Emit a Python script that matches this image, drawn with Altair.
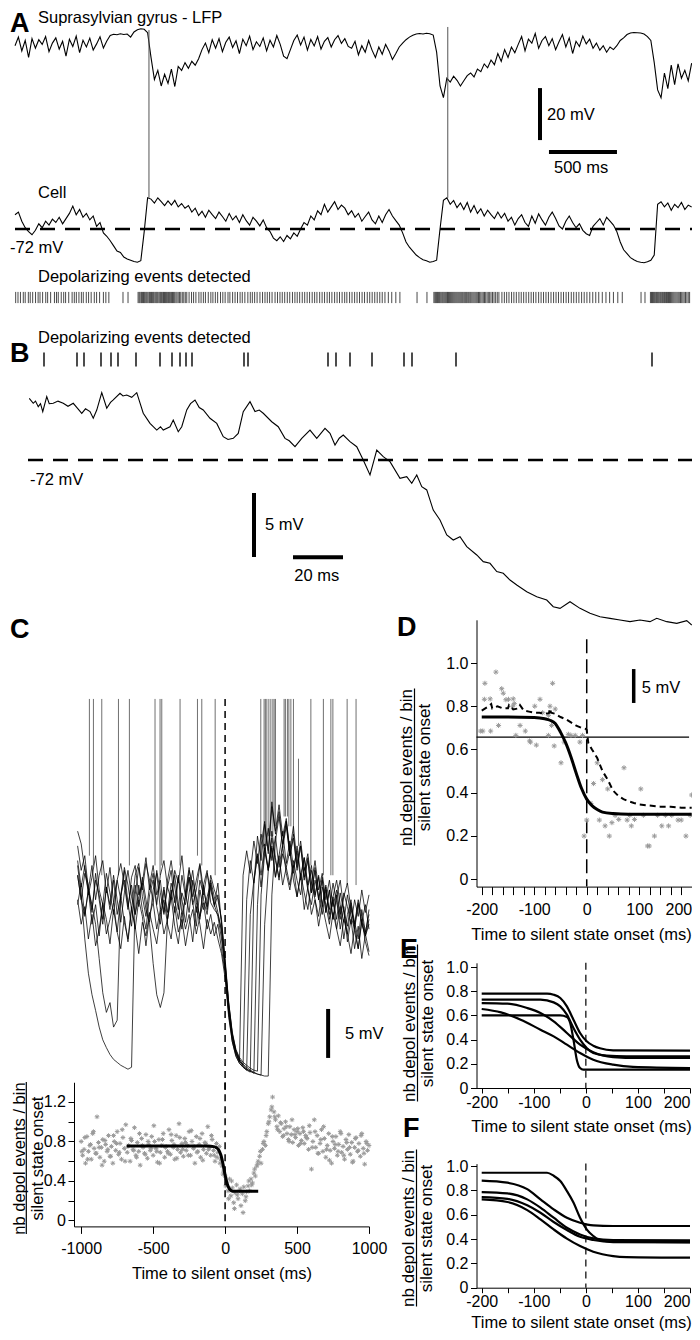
import altair as alt
import pandas as pd

FONT = "Liberation Sans"
W, H = 684, 1324

# ======================= DATA =======================
# ---- Panel A : LFP (display mV) and cell Vm, sampled every 25 ms ----
A_STEP_MS = 25
LFP = [
    -1.5, 1.8, -3.5, 0.5, -6.0, 1.2, -2.5, 0.8, -1.0, 2.0, -3.8, -0.5, 1.5, -2.8,
    0.2, -5.5, 1.0, -1.8, 2.2, -4.2, 0.6, -2.0, 1.4, -3.2, -0.8, 1.9, -2.4, 0.3,
    2.4, 2.9, 2.7, 3.1, 2.8, 3.0, 1.8,
    3.8, 4.6, 5.0, 4.8,
    3.5,
    -6.0, -14.5, -11.0, -17.0, -12.5, -16.0, -10.5, -17.2,
    -9.5, -11.0, -8.0, -10.2, -7.5, -9.0, -6.5,
    -3.0, -0.5, -4.2, 0.8, -2.5, 1.2, -3.8, -0.2, 1.8, -2.2,
    0.4, -4.5, 1.0, -1.5, 2.2, -3.0, 0.0, -1.8, 1.5, -3.5,
    0.6, -2.0, 2.4, -1.0, -5.5, -6.5, -3.0, 0.5, 2.6, -1.2,
    1.8, -3.2, 0.9, -1.6, 2.0, -2.8, 0.2, 1.6, -2.0, 0.8,
    2.4, -0.6, 1.2, -1.8,
    -2.5, 0.2, -5.0, -1.5, -4.0, 0.5, -3.2, -6.0, -2.0, -4.8, -1.0, -3.5, -6.8, -4.5, -2.0,
    -0.5, 0.8, 1.8, 2.5, 3.0, 3.2, 3.0, 3.3, 3.1, 2.6,
    -4.0, -17.0, -21.5,
    -14.0, -15.5, -13.2, -14.8, -17.0, -15.0,
    -13.0, -12.0, -13.5, -10.5, -11.5, -8.5, -10.0, -7.0, -8.8, -4.5, -7.5, -3.0, -6.0, -2.0, -4.2,
    -1.0, 2.0, -3.5, 1.0, -0.5, 3.2, -2.5, 0.5, 2.0, -1.5,
    1.2, -3.0, 0.0, 2.8, -2.0, 1.5, -4.5, 0.2, -1.8, 2.2,
    -0.8, 1.0, -2.5, -0.5, -3.2, -1.5, -4.0, -2.0, -3.0, -1.5, 0.5,
    1.5, 2.8, 3.4, 3.6, 3.5, 3.4, 3.0, 2.0, 0.5,
    -8.0, -18.5, -21.5,
    -12.0, -18.0, -9.0, -16.5, -8.5, -14.0, -11.0, -15.0, -8.2,
]
CELL = [
    -66.5, -65.5, -69.0, -71.5, -73.0, -74.2, -72.5,
    -70.0, -71.5, -69.0, -70.5, -68.2, -69.5, -67.5, -70.0, -68.0, -66.0,
    -63.2, -66.5, -64.5, -67.5, -66.0, -68.5, -67.0,
    -71.0, -69.5, -73.5, -74.8,
    -76.5, -78.5, -80.5, -81.0,
    -82.8, -83.5, -84.0, -84.5, -84.8, -84.2,
    -73.0, -60.0,
    -60.5, -62.0, -60.0, -61.5, -63.0, -61.2, -62.8, -61.0, -63.5, -62.2, -64.0,
    -63.0, -65.5, -64.0, -66.8, -65.2, -67.5, -64.8, -66.5, -68.0, -65.5, -67.2, -69.0,
    -66.0, -68.5, -67.0, -69.5, -66.5, -68.8, -70.5, -67.5, -69.0, -70.8, -68.5,
    -71.5, -73.0, -75.5, -76.5, -75.0, -76.8, -74.5, -75.8, -73.5, -74.8,
    -72.0, -69.5, -70.5, -67.0, -68.5, -65.0, -66.5, -62.5, -65.5, -63.5, -61.5, -64.5, -62.8, -64.0, -66.5,
    -65.0, -67.5, -66.0, -69.0, -67.2, -65.5, -68.5, -70.0, -67.0, -69.5, -66.5, -64.5, -67.0, -68.8, -70.5,
    -73.5, -77.0, -79.0, -80.5,
    -82.0, -83.0, -83.8, -84.2, -84.8, -84.5,
    -84.0, -72.0, -61.0,
    -60.0, -62.5, -61.0, -63.8, -62.0, -64.5, -61.8, -65.5, -63.0, -66.0, -64.2, -67.0, -64.8, -66.5, -68.0, -65.5, -67.8,
    -66.0, -69.0, -67.5, -70.5, -68.0, -66.5, -69.5, -71.0, -67.0, -69.8,
    -66.2, -68.5, -70.5, -67.5, -65.5, -68.0, -70.8, -72.0, -69.0, -67.0,
    -69.5, -71.5, -70.0, -72.5, -73.8, -74.5, -71.0, -69.5, -68.0, -70.5,
    -67.5, -69.0, -70.5,
    -73.0, -77.0, -80.0, -81.5,
    -83.0, -83.8, -84.5, -84.8, -85.0, -84.6, -84.0,
    -82.0, -62.5,
    -61.5, -63.5, -62.0, -64.8, -62.5, -63.8, -61.8, -64.5, -62.8, -63.5,
]
# action potentials of the cell: (time ms, foot mV, truncated top mV)
A_SPIKES = [(985, -60.0, 4.5), (3182, -60.0, 5.7)]
# detected depolarizing events (ms)
A_EVENTS = [
    5, 22, 40, 61, 75, 98, 112, 130, 151, 170, 184, 203, 226, 240, 262, 290, 305, 318, 340, 358,
    372, 395, 420, 436, 451, 470, 488, 502, 524, 541, 560, 583, 600, 622, 650, 668, 690,
    794, 831,
    905, 912, 918, 926, 931, 938, 945, 951, 957, 964, 970, 977, 985, 990, 997, 1004, 1010, 1017,
    1023, 1031, 1038, 1044, 1050, 1058, 1065, 1071, 1078, 1086, 1092, 1099, 1106, 1113, 1120,
    1128, 1135, 1142, 1150, 1158, 1166, 1174, 1183, 1191, 1200, 1210, 1219, 1230, 1241, 1252, 1263,
    1280, 1298, 1313, 1330, 1352, 1368, 1385, 1400, 1421, 1440, 1455, 1473, 1490, 1511, 1528,
    1545, 1566, 1580, 1600, 1618, 1636, 1655, 1671, 1690, 1712, 1730, 1745, 1762, 1780, 1801,
    1820, 1838, 1855, 1872, 1890, 1912, 1930, 1948, 1965, 1983, 2002, 2020, 2040, 2058, 2075,
    2093, 2112, 2130, 2148, 2166, 2185, 2203, 2220, 2240, 2258, 2276, 2295, 2312, 2330, 2350,
    2368, 2386, 2405, 2424, 2440, 2460, 2478, 2497, 2515, 2533, 2552, 2570, 2590, 2608, 2626,
    2645, 2663, 2682, 2700, 2720, 2745, 2770, 2800, 2830,
    2956, 3029,
    3080, 3087, 3093, 3100, 3106, 3113, 3120, 3126, 3133, 3140, 3146, 3153, 3160, 3167, 3174,
    3180, 3187, 3194, 3201, 3208, 3215, 3222, 3229, 3236, 3243, 3250, 3257, 3264, 3271, 3278,
    3285, 3292, 3300, 3307, 3314, 3321, 3329, 3336, 3344, 3351, 3359, 3367, 3375, 3383, 3391,
    3399, 3408, 3416, 3425, 3434, 3443, 3452, 3461, 3471, 3480, 3490, 3500, 3511, 3522, 3534,
    3546, 3558,
    3580, 3598, 3615, 3632, 3651, 3668, 3686, 3705, 3722, 3740, 3758, 3777, 3795, 3812, 3830,
    3850, 3868, 3886, 3904, 3922, 3941, 3960, 3978, 3996, 4015, 4033, 4052, 4070, 4090, 4108,
    4127, 4146, 4166, 4185, 4205, 4226, 4248, 4270, 4292, 4318, 4345, 4372, 4400, 4432, 4465,
    4603, 4632,
    4672, 4680, 4687, 4694, 4701, 4708, 4716, 4723, 4730, 4737, 4745, 4752, 4760, 4767, 4775,
    4782, 4790, 4797, 4805, 4812, 4820, 4828, 4836, 4844, 4852, 4860, 4868, 4876, 4884, 4893,
    4902, 4911, 4920, 4930, 4940, 4950, 4960,
]

# ---- Panel B : zoom on the transition (time ms, Vm mV) ----
B_TRACE = [
    (0.5, -67.18), (2.1, -67.57), (3.0, -67.40), (4.1, -67.83), (5.0, -67.60), (5.9, -68.22),
    (7.5, -67.05), (8.5, -67.60), (10.1, -67.57), (12.0, -67.40), (14.1, -67.57), (16.0, -67.80),
    (18.1, -67.57), (20.0, -68.00), (21.5, -68.35), (23.0, -68.00), (24.8, -68.22), (26.1, -68.74),
    (27.5, -68.10), (29.5, -66.74), (31.5, -67.96), (33.0, -67.50), (34.1, -67.31), (36.8, -66.79),
    (38.0, -67.00), (39.5, -66.92), (41.5, -67.10), (43.5, -66.74), (46.1, -68.35), (48.8, -69.14),
    (51.5, -69.66), (53.0, -69.40), (54.1, -69.66), (56.8, -69.40), (58.1, -68.88), (60.1, -69.79),
    (61.5, -69.40), (63.5, -68.09), (65.0, -67.60), (66.8, -67.31), (68.5, -67.90), (70.1, -68.09),
    (72.8, -68.74), (75.5, -69.14), (78.1, -70.18), (80.0, -70.40), (82.1, -70.31), (84.1, -69.92),
    (86.1, -68.22), (88.8, -67.44), (90.8, -68.22), (92.5, -68.10), (94.1, -68.35), (97.5, -69.01),
    (100.1, -69.40), (102.8, -70.31), (104.5, -70.50), (106.8, -70.96), (109.5, -70.31),
    (112.8, -69.66), (115.5, -70.31), (118.8, -69.53), (120.8, -69.92), (122.8, -70.83),
    (124.5, -70.30), (126.1, -70.05), (128.8, -70.57), (131.5, -70.96), (134.1, -72.00),
    (136.8, -73.17), (139.5, -71.22), (142.1, -71.74), (144.8, -72.13), (148.8, -73.43),
    (151.5, -73.30), (153.5, -73.82), (155.5, -73.17), (157.5, -74.08), (159.5, -74.34),
    (162.1, -75.91), (164.8, -76.69), (167.5, -77.86), (170.1, -78.25), (172.8, -77.99),
    (175.5, -78.77), (179.5, -79.42), (182.1, -79.94), (184.8, -80.07), (187.5, -80.72),
    (190.1, -80.85), (192.8, -81.38), (195.5, -81.77), (199.5, -82.29), (203.5, -82.68),
    (207.5, -82.94), (210.1, -83.46), (212.8, -83.59), (216.8, -83.07), (220.8, -83.59),
    (224.8, -83.98), (228.8, -84.24), (232.8, -84.37), (236.8, -84.50), (240.8, -84.63),
    (244.8, -84.50), (248.8, -84.63), (251.5, -84.37), (255.5, -84.63), (259.5, -84.76),
    (263.5, -84.55), (265.5, -84.89),
]
B_EVENTS = [6.4, 19.6, 22.4, 29.2, 33.2, 36.0, 43.2, 52.8, 57.6, 60.8, 63.2, 65.6, 86.4, 88.0,
            120.0, 123.2, 128.8, 137.6, 150.4, 153.6, 171.2, 249.6]

# ---- Panel C : overlaid Vm traces aligned on silent-state onset (every 25 ms from -1025 ms) ----
C_T0, C_STEP = -1025, 25
C_TRACES = {
    "t1": [-55.0, -57.5, -56.0, -59.5, -57.0, -60.5, -58.0, -56.5, -59.8, -57.2,
           -60.8, -58.5, -56.8, -59.0, -61.5, -58.2, -57.0, -60.0, -58.8, -56.2,
           -59.5, -57.8, -61.0, -58.0, -56.5, -59.2, -60.5, -57.5, -58.8, -56.0,
           -59.8, -57.2, -60.2, -58.5, -56.8, -59.5, -61.2, -58.0, -59.5, -60.5, -62.5,
           -66.5, -71.0, -74.2, -76.0, -77.0, -58.0,
           -55.5, -57.8, -54.5, -56.8, -53.8, -55.5, -57.5, -54.2, -56.5, -58.2,
           -55.8, -57.2, -59.0, -56.5, -58.5, -60.0, -57.2, -59.5, -61.0, -58.5,
           -60.2, -62.0, -59.5, -61.5, -58.8, -60.8, -62.5, -59.8, -61.2, -63.0,
           -60.5, -62.2, -59.5, -61.8, -60.0],
    "t2": [-58.0, -60.5, -62.0, -59.5, -63.0, -61.0, -64.2, -60.8, -62.5, -65.0,
           -61.5, -63.8, -60.2, -62.8, -64.5, -61.2, -63.5, -60.5, -62.2, -65.2,
           -62.0, -60.8, -63.5, -61.5, -64.0, -62.5, -60.2, -63.2, -65.0, -61.8,
           -63.5, -62.0, -64.8, -61.2, -63.0, -65.5, -62.5, -64.0, -62.8, -64.5, -66.0,
           -68.5, -72.5, -75.0, -76.5, -77.2, -77.6, -77.9, -62.0,
           -58.5, -56.0, -59.2, -55.2, -57.5, -53.5, -56.2, -58.5, -55.0, -57.8,
           -59.5, -57.0, -60.2, -58.0, -61.5, -59.2, -62.0, -60.5, -63.2, -61.0,
           -62.8, -64.5, -61.8, -63.5, -65.2, -62.5, -64.0, -66.0, -63.2, -65.5,
           -62.8, -64.2, -63.0],
    "t3": [-53.5, -54.8, -57.5, -59.0, -61.5, -58.5, -60.0, -62.5, -59.2, -61.0,
           -58.0, -60.5, -62.8, -59.8, -57.5, -60.2, -62.0, -59.0, -61.5, -63.5,
           -60.0, -58.5, -61.2, -63.0, -59.5, -61.8, -58.8, -60.5, -62.5, -59.8,
           -61.0, -58.2, -60.8, -63.2, -59.5, -61.5, -60.2, -58.8, -61.0, -62.2, -64.5,
           -67.5, -71.8, -74.8, -76.2, -77.0, -77.5, -77.8, -78.0, -78.2, -61.0,
           -55.0, -52.5, -55.8, -51.0, -53.5, -50.8, -54.0, -52.2, -55.5, -53.0,
           -56.8, -54.5, -57.5, -55.8, -58.8, -56.5, -59.5, -57.8, -60.5, -58.5,
           -61.2, -59.5, -62.0, -60.2, -58.8, -61.5, -63.0, -60.5, -62.2, -64.0, -61.5],
    "t4": [-60.5, -63.0, -61.2, -64.5, -62.0, -65.2, -63.5, -61.0, -64.0, -62.5,
           -60.8, -63.8, -65.5, -62.2, -64.8, -61.5, -63.2, -66.0, -62.8, -64.2,
           -61.8, -63.5, -65.0, -62.0, -60.5, -63.0, -64.5, -61.2, -63.8, -62.5,
           -65.2, -63.0, -61.5, -64.0, -62.2, -60.8, -63.5, -62.0, -64.2, -63.0, -65.5,
           -68.0, -72.0, -74.5, -76.0, -76.8, -77.3, -77.6, -77.9, -78.1, -78.3, -78.4, -63.0,
           -57.5, -55.0, -58.2, -56.0, -53.5, -56.8, -54.5, -57.2, -55.5, -58.5,
           -56.2, -59.0, -57.0, -60.2, -58.0, -61.0, -59.2, -62.5, -60.5, -63.5,
           -61.2, -64.5, -62.0, -60.5, -63.8, -65.5, -62.5, -64.8, -66.2],
    "t5": [-57.0,
           -60.0, -64.5, -68.0, -70.2, -71.8, -73.5, -74.8, -75.6, -76.3, -76.8, -77.1, -77.4, -77.6, -77.8, -77.6,
           -60.0, -57.2, -59.5, -56.8, -58.5, -60.8, -57.5, -59.8, -62.0, -58.5,
           -56.5, -59.2, -61.5, -58.0, -60.2, -57.5, -59.0, -61.8, -58.5, -60.0,
           -57.8, -59.5, -61.0, -58.8, -63.0,
           -67.0, -71.0, -74.0, -75.8, -76.8, -77.4, -77.8, -78.0, -78.2, -78.3, -78.4, -78.5, -78.5, -60.0,
           -54.5, -52.0, -55.2, -53.0, -56.0, -54.2, -57.5, -55.0, -58.2, -56.5,
           -59.8, -57.2, -60.5, -58.5, -61.8, -59.5, -62.5, -60.0, -63.5, -61.2,
           -64.8, -62.5, -65.5, -63.2, -66.5, -64.0, -65.8],
    "t6": [-58.0, -60.5, -57.8, -59.5, -61.0,
           -63.0, -66.5, -70.0, -72.0, -71.0, -73.5, -72.8,
           -60.0, -58.5, -61.2, -59.0, -62.0, -60.2, -58.8, -61.5,
           -63.0, -67.0, -70.2, -71.5, -70.0, -62.5,
           -59.5, -61.8, -58.2, -60.5, -62.8, -59.8, -57.5, -60.8, -62.2, -59.0, -61.5, -58.5, -60.2, -61.8, -63.8,
           -67.8, -72.2, -75.0, -76.4, -77.2, -77.6, -77.9, -78.1, -59.0,
           -54.0, -56.5, -52.8, -55.5, -50.5, -53.8, -51.5, -54.8, -52.5, -56.0,
           -53.8, -57.2, -55.0, -58.5, -56.2, -59.8, -57.5, -60.5, -58.2, -61.8,
           -59.5, -62.5, -60.2, -58.5, -61.5, -63.2, -60.8, -62.8, -64.5, -61.5,
           -63.8, -62.0],
    "t7": [-61.0, -58.8, -62.2, -59.5, -61.8, -57.8, -60.5, -63.0, -59.2, -61.5,
           -58.5, -62.0, -60.0, -57.5, -60.8, -63.2, -59.0, -61.2, -58.2, -60.5,
           -62.8, -59.5, -57.8, -61.5, -59.2, -62.5, -60.0, -58.0, -61.0, -63.5,
           -59.8, -61.8, -58.5, -60.2, -62.5, -59.0, -57.5, -60.8, -61.5, -62.0, -63.5,
           -67.2, -71.5, -74.5, -76.2, -77.0, -77.4, -60.5,
           -56.5, -58.8, -55.8, -58.0, -54.8, -57.5, -55.2, -58.2, -56.0, -59.0,
           -57.2, -55.5, -58.5, -60.2, -57.8, -59.8, -61.5, -58.8, -60.5, -62.2,
           -59.2, -61.0, -63.0, -60.2, -62.5, -59.8, -61.8, -64.0, -61.2, -63.2,
           -60.8, -62.8, -61.0, -63.5],
    "t8": [-56.5, -59.2, -57.0, -60.0, -58.2, -56.0, -59.5, -61.0, -57.8, -59.8,
           -62.0, -58.5, -60.5, -57.2, -59.0, -61.5, -58.0, -56.8, -60.2, -62.2,
           -59.0, -57.0, -60.0, -58.5, -61.8, -59.2, -57.5, -60.8, -58.0, -62.0,
           -60.2, -58.2, -61.0, -59.5, -57.0, -60.5, -62.0, -59.0, -61.2, -60.0, -62.8,
           -66.8, -71.2, -74.2, -75.8, -76.6, -77.1, -77.4, -77.7, -77.9, -78.0, -60.0,
           -55.8, -53.2, -56.5, -54.0, -57.2, -54.8, -52.5, -55.5, -57.8, -55.0,
           -58.0, -56.2, -59.2, -57.5, -60.0, -58.2, -61.2, -59.0, -62.0, -60.2,
           -58.5, -61.0, -62.8, -60.0, -62.2, -63.5, -61.0, -63.0, -64.2, -62.5],
}
# spikes in C: (time ms, foot mV, truncated top mV)
C_SPIKES = [
    (-943, -56, -40), (-915, -57, -40), (-857, -58, -40), (-741, -58, -40), (-665, -57, -40),
    (-487, -57, -40), (-452, -58, -40), (-440, -57, -40), (-313, -57, -40), (-192, -56, -40),
    (-162, -57, -40), (-69, -58, -40),
    (248, -56, -40), (271, -55, -40), (280, -55, -40), (290, -55, -40), (304, -54, -40),
    (318, -54, -40), (332, -54, -40), (341, -53, -40), (350, -53, -40), (410, -52, -40),
    (419, -52, -40), (433, -52, -40), (443, -53, -40), (457, -53, -40), (475, -54, -40),
    (510, -55, -46.1), (596, -57, -40), (683, -58, -40), (735, -58, -40), (749, -58, -40),
    (848, -59, -40), (910, -59, -40),
]
# events / bin, first set every 10 ms from -1000 ms, second set every 20 ms from -995 ms
C_SCAT_A = [
    0.80, 0.66, 0.72, 0.58, 0.85, 0.70, 0.76, 0.62, 0.88, 0.73,
    0.68, 1.05, 0.79, 0.64, 0.74, 0.82, 0.60, 0.77, 0.70, 0.86,
    0.65, 0.75, 0.58, 0.80, 0.71, 0.90, 0.67, 0.78, 0.62, 0.84,
    0.73, 0.97, 0.69, 0.76, 0.60, 0.81, 0.72, 0.94, 0.66, 0.79,
    0.70, 0.56, 0.83, 0.74, 0.68, 0.87, 0.63, 0.77, 0.71, 0.85,
    0.66, 0.80, 0.73, 0.59, 0.82, 0.69, 0.76, 0.88, 0.64, 0.75,
    0.70, 0.92, 0.67, 0.81, 0.74, 0.62, 0.86, 0.72, 0.98, 0.69,
    0.78, 0.65, 0.83, 0.71, 0.76, 0.90, 0.66, 0.80, 0.73, 0.58,
    0.85, 0.70, 0.77, 0.64, 0.88, 0.72, 0.79, 0.68, 0.95, 0.74,
    0.66, 0.82, 0.71, 0.60, 0.78, 0.69, 0.75,
    0.62, 0.55, 0.50, 0.45,
    0.38, 0.30, 0.42, 0.25, 0.33, 0.18, 0.28, 0.36, 0.22, 0.30, 0.15, 0.27, 0.34, 0.20, 0.29,
    0.35, 0.30, 0.42, 0.38, 0.48, 0.45, 0.55, 0.60,
    0.65, 0.58, 0.72, 0.80, 0.76, 0.90, 0.98, 1.05, 1.12, 1.25,
    1.10, 1.02, 0.95, 1.06, 0.90, 0.98, 0.85, 0.93, 1.00, 0.88, 0.82, 0.95, 0.87, 0.79,
    0.92, 0.84, 0.90, 0.76, 0.88, 0.81, 0.94, 0.78, 0.86, 0.83, 0.72, 0.89, 0.52,
    0.80, 1.02, 0.74, 0.86, 0.68, 0.78, 0.92, 0.70, 0.83, 0.64,
    0.76, 0.88, 0.71, 0.58, 0.80, 0.73, 0.85, 0.66, 0.77, 0.90,
    0.69, 0.75, 0.62, 0.82, 0.72, 0.87, 0.67, 0.79, 0.60, 0.74,
    0.84, 0.70, 0.78, 0.65, 0.88, 0.73, 0.57, 0.80, 0.71, 0.76,
]
C_SCAT_B = [
    0.70, 0.84, 0.62, 0.77, 0.90, 0.68, 0.74, 0.56, 0.81, 0.72,
    0.65, 0.86, 0.78, 0.69, 0.92, 0.60, 0.75, 0.83, 0.71, 0.64,
    0.88, 0.76, 0.67, 0.80, 0.73, 0.96, 0.70, 0.58, 0.82, 0.74,
    0.68, 0.87, 0.77, 0.63, 0.84, 0.72, 0.79, 0.66, 0.91, 0.75,
    0.69, 0.83, 0.61, 0.78, 0.72, 0.86, 0.66, 0.64,
    0.58, 0.47,
    0.35, 0.22, 0.40, 0.12, 0.26, 0.32, 0.08, 0.24,
    0.40, 0.36, 0.52, 0.57,
    0.70, 0.78, 0.86, 1.00, 1.15,
    1.05, 0.92, 0.99, 0.86, 0.95, 0.80, 1.02, 0.87, 0.93, 0.78, 0.90, 0.84, 0.96,
    0.74, 0.90, 0.68, 0.82, 0.95, 0.72, 0.61, 0.85, 0.77, 0.70,
    0.88, 0.66, 0.79, 0.74, 0.59, 0.83, 0.71, 0.86, 0.68, 0.78,
]
C_FIT = [(-683, 0.755), (-300, 0.755), (-120, 0.754), (-80, 0.748), (-60, 0.737), (-45, 0.715),
         (-30, 0.665), (-15, 0.575), (0, 0.46), (15, 0.37), (30, 0.32), (45, 0.30), (60, 0.295),
         (230, 0.295)]

# ---- Panel D ----
D_SCAT = [
    (-202, .685), (-195, .832), (-194, .906), (-184, .834), (-198, .685), (-183, .685), (-173, .958),
    (-168, .711), (-162, .881), (-159, .860), (-154, .830), (-149, .832), (-140, .834), (-138, .812),
    (-141, .800), (-135, .665), (-127, .711), (-117, .685), (-109, .639), (-107, .634), (-99, .800),
    (-96, .620), (-89, .832), (-84, .770), (-73, .758), (-67, .711), (-65, .906), (-60, .787),
    (-73, .665), (-62, .616), (-49, .538), (-43, .634), (-35, .670), (-30, .665), (-22, .665),
    (-13, .634), (-8, .665), (-5, .199), (0, .273), (8, .350), (13, .442), (20, .538), (30, .460),
    (40, .417), (24, .273), (35, .246), (43, .199), (48, .261), (54, .295), (61, .276), (71, .515),
    (77, .273), (85, .246), (91, .276), (82, .295), (103, .417), (108, .295), (116, .153),
    (119, .153), (129, .199), (135, .295), (143, .246), (150, .295), (156, .246), (162, .295),
    (174, .273), (180, .273), (189, .199), (197, .295), (200, .389), (-70, .80),
]
D_FIT = [(-200, .75), (-150, .75), (-100, .748), (-80, .742), (-70, .735), (-60, .72), (-50, .68),
         (-40, .63), (-30, .565), (-20, .49), (-10, .42), (0, .37), (10, .34), (20, .322),
         (30, .31), (50, .303), (80, .30), (200, .30)]
D_VM = [(-200, .78), (-190, .795), (-182, .81), (-180, .79), (-170, .80), (-160, .79), (-150, .79),
        (-148, .805), (-140, .785), (-130, .79), (-127, .805), (-120, .78), (-110, .775),
        (-100, .77), (-90, .77), (-80, .765), (-72, .768), (-70, .79), (-68, .77), (-60, .765),
        (-50, .75), (-40, .74), (-30, .725), (-20, .71), (-10, .70), (-2, .695), (0, .69),
        (3, .63), (10, .60), (20, .56), (30, .50), (40, .46), (50, .41), (60, .385), (70, .37),
        (80, .36), (90, .352), (100, .345), (120, .34), (140, .335), (160, .335), (180, .33),
        (200, .33)]

# ---- Panel E / F : sigmoid fits of other cells ----
E_CURVES = {
    "e1": [(-200, .78), (-74.5, .78), (-61.8, .771), (-49.1, .744), (-36.4, .675), (-23.8, .565),
           (-11.1, .455), (1.6, .386), (14.3, .35), (27, .328), (52.4, .311), (200, .309)],
    "e2": [(-200, .73), (-87.2, .73), (-61.8, .708), (-49.1, .675), (-36.4, .606), (-23.8, .496),
           (-11.1, .40), (1.6, .331), (14.3, .289), (39.7, .267), (77.8, .262), (200, .262)],
    "e3": [(-200, .702), (-150.6, .697), (-112.6, .661), (-87.2, .62), (-61.8, .551),
           (-36.4, .455), (-11.1, .358), (14.3, .295), (52.4, .256), (100, .248), (200, .248)],
    "e4": [(-200, .653), (-163, .625), (-125.2, .565), (-87.2, .482), (-61.8, .427), (-36.4, .358),
           (-11.1, .289), (14.3, .234), (52.4, .193), (90.5, .174), (200, .165)],
    "e5": [(-200, .60), (-49.1, .60), (-36.4, .587), (-30.1, .537), (-23.8, .40), (-17.4, .234),
           (-11.1, .165), (-4.8, .152), (200, .152)],
}
F_CURVES = {
    "f1": [(-200, .945), (-74.5, .945), (-61.8, .92), (-49.1, .877), (-36.4, .795), (-23.8, .70),
           (-11.1, .575), (1.6, .48), (14.3, .425), (27, .39), (52.4, .378), (200, .375)],
    "f2": [(-200, .88), (-150.6, .863), (-112.6, .81), (-87.2, .726), (-61.8, .644), (-36.4, .575),
           (-11.1, .534), (14.3, .512), (52.4, .507), (200, .507)],
    "f3": [(-200, .786), (-150.6, .775), (-112.6, .726), (-87.2, .658), (-61.8, .575),
           (-36.4, .493), (-11.1, .438), (14.3, .405), (52.4, .392), (200, .39)],
    "f4": [(-200, .745), (-150.6, .73), (-112.6, .677), (-87.2, .616), (-61.8, .54), (-36.4, .474),
           (-11.1, .419), (14.3, .392), (52.4, .375), (200, .372)],
    "f5": [(-200, .726), (-150.6, .704), (-112.6, .638), (-87.2, .562), (-61.8, .479),
           (-36.4, .403), (-11.1, .342), (14.3, .296), (52.4, .26), (77.8, .252), (200, .247)],
}

# ======================= TABLES =======================
lfp_df = pd.DataFrame({"t": [i * A_STEP_MS for i in range(len(LFP))], "v": LFP})
cell_df = pd.DataFrame({"t": [i * A_STEP_MS for i in range(len(CELL))], "v": CELL})
a_spk_df = pd.DataFrame(A_SPIKES, columns=["t", "v", "v2"])
a_evt_df = pd.DataFrame({"t": A_EVENTS})
b_df = pd.DataFrame(B_TRACE, columns=["t", "v"])
b_evt_df = pd.DataFrame({"t": B_EVENTS})
c_rows = []
for name, vals in C_TRACES.items():
    for i, v in enumerate(vals):
        c_rows.append({"trace": name, "t": C_T0 + i * C_STEP, "v": v})
c_df = pd.DataFrame(c_rows)
c_spk_df = pd.DataFrame(C_SPIKES, columns=["t", "v", "v2"])
c_sc_df = pd.DataFrame(
    {"t": [-1000 + 10 * k for k in range(len(C_SCAT_A))] + [-995 + 20 * j for j in range(len(C_SCAT_B))],
     "n": C_SCAT_A + C_SCAT_B})
c_fit_df = pd.DataFrame(C_FIT, columns=["t", "n"])
d_sc_df = pd.DataFrame(D_SCAT, columns=["t", "n"])
d_fit_df = pd.DataFrame(D_FIT, columns=["t", "n"])
d_vm_df = pd.DataFrame(D_VM, columns=["t", "n"])
e_df = pd.DataFrame([{"c": k, "t": x, "n": y} for k, pts in E_CURVES.items() for x, y in pts])
f_df = pd.DataFrame([{"c": k, "t": x, "n": y} for k, pts in F_CURVES.items() for x, y in pts])

# ======================= SCALES (panel placement) =======================
def sc(domain, rng):
    return alt.Scale(domain=domain, range=rng, nice=False, zero=False)

AX, AY = sc([0, 4985], [7, 685]), sc([-103, 13], [301.6, 0])
BX, BY = sc([0, 265.6], [20, 684]), sc([-85.2, -60.9], [620.96, 309.92])
CX = sc([-1050, 1000], [66, 361])
CTY = sc([-80, -30], [1082.75, 593.0])
CSY = sc([-0.06, 1.4], [1218.4, 1074.25])
DX, DY = sc([-210, 200], [468.5, 683.7]), sc([-0.035, 1.2], [878.6, 611.8])
EX, EY = sc([-210, 200], [468.5, 682]), sc([0, 1.035], [1080, 954.8])
FX, FY = sc([-210, 200], [468.5, 682]), sc([0, 1.02], [1279.7, 1155.6])

ASTER = "M-1,0L1,0M0,-1L0,1M-0.7,-0.7L0.7,0.7M-0.7,0.7L0.7,-0.7"
YTITLE = ["nb depol events / bin", "silent state onset"]


def qx(f, s, axis=None):
    return alt.X(f, type="quantitative", scale=s, axis=axis)


def qy(f, s, axis=None):
    return alt.Y(f, type="quantitative", scale=s, axis=axis)


def label(text, x, y, size=16.5, weight="normal", align="left", baseline="middle"):
    return alt.Chart(pd.DataFrame({"s": [text]})).mark_text(
        align=align, baseline=baseline, font=FONT, fontSize=size, fontWeight=weight, color="black"
    ).encode(x=alt.value(x), y=alt.value(y), text="s:N")


def dlabel(text, x, y, xs, ys, align="left", size=16.5):
    return alt.Chart(pd.DataFrame({"x": [x], "y": [y], "s": [text]})).mark_text(
        align=align, baseline="middle", font=FONT, fontSize=size, color="black"
    ).encode(x=qx("x", xs), y=qy("y", ys), text="s:N")


def vrule(x, y1, y2, xs, ys, width, color="black", dash=None):
    kw = {"strokeDash": dash} if dash else {}
    return alt.Chart(pd.DataFrame({"x": [x], "y": [y1], "y2": [y2]})).mark_rule(
        color=color, strokeWidth=width, **kw).encode(x=qx("x", xs), y=qy("y", ys), y2="y2:Q")


def hrule(x1, x2, y, xs, ys, width, color="black", dash=None):
    kw = {"strokeDash": dash} if dash else {}
    return alt.Chart(pd.DataFrame({"x": [x1], "x2": [x2], "y": [y]})).mark_rule(
        color=color, strokeWidth=width, **kw).encode(x=qx("x", xs), x2="x2:Q", y=qy("y", ys))


def px_vline(x, y1, y2, width=1.2):
    return alt.Chart(pd.DataFrame({"a": [0]})).mark_rule(color="black", strokeWidth=width).encode(
        x=alt.value(x), y=alt.value(y1), y2=alt.value(y2))


def time_axis(values, every, offset, tick, pad, title, tx, ty, flush=True):
    return alt.Axis(values=values, orient="bottom", offset=offset, tickSize=tick, labelPadding=pad,
                    labelExpr=f"datum.value % {every} == 0 ? '' + datum.value : ''",
                    labelFlush=flush, labelOverlap=False, title=title, titleX=tx, titleY=ty,
                    titleAlign="center", titleBaseline="alphabetic", titleFontSize=16.5)


def rate_axis(values, offset, tx, ty, expr, size=17):
    # tx: position of the first (underlined) title line, relative to the axis line
    return alt.Axis(values=values, orient="left", offset=offset, tickSize=6, labelPadding=2.5,
                    labelExpr=expr, labelOverlap=False, title=YTITLE, titleX=tx, titleY=ty,
                    titleAngle=270, titleAlign="center", titleBaseline="bottom", titleLineHeight=18,
                    titleFontSize=size)


Y_EXPR = "datum.value == 0 ? '0' : format(datum.value, '.1f')"
C_Y_EXPR = "round(datum.value * 10) % 4 == 0 ? (datum.value == 0 ? '0' : format(datum.value, '.1f')) : ''"

layers = []

# ======================= PANEL A =======================
layers += [
    label("A", 2, 3, size=27, weight="bold", baseline="top"),
    label("Suprasylvian gyrus - LFP", 30, 10),
    label("Cell", 30, 185),
    label("-72 mV", 2, 240),
    label("Depolarizing events detected", 30, 269),
    alt.Chart(lfp_df).mark_line(color="black", strokeWidth=1.1).encode(x=qx("t", AX), y=qy("v", AY)),
    alt.Chart(a_spk_df).mark_rule(color="#555555", strokeWidth=1).encode(
        x=qx("t", AX), y=qy("v", AY), y2="v2:Q"),
    alt.Chart(cell_df).mark_line(color="black", strokeWidth=1.1).encode(x=qx("t", AX), y=qy("v", AY)),
    hrule(0, 4985, -72, AX, AY, 2.5, dash=[15, 10]),
    vrule(3860, -37.8, -17.8, AX, AY, 4),
    hrule(3926, 4426, -42.4, AX, AY, 4),
    dlabel("20 mV", 3912, -28.2, AX, AY),
    dlabel("500 ms", 4162, -48.5, AX, AY, align="center"),
    alt.Chart(a_evt_df).mark_rule(color="#4a4a4a", strokeWidth=1).encode(
        x=qx("t", AX), y=alt.Y("y:Q", scale=AY, axis=None), y2="y2:Q"
    ).transform_calculate(y="-96.2", y2="-100.5"),
]

# ======================= PANEL B =======================
layers += [
    label("Depolarizing events detected", 30, 330),
    label("B", 2, 333, size=27, weight="bold", baseline="top"),
    alt.Chart(b_evt_df).mark_rule(color="black", strokeWidth=1.4).encode(
        x=qx("t", BX), y=alt.Y("y:Q", scale=BY, axis=None), y2="y2:Q"
    ).transform_calculate(y="-63.6", y2="-64.7"),
    alt.Chart(b_df).mark_line(color="black", strokeWidth=1.1).encode(x=qx("t", BX), y=qy("v", BY)),
    hrule(0, 265.6, -72, BX, BY, 2.5, dash=[15, 10]),
    label("-72 mV", 22, 472),
    vrule(90.4, -79.58, -74.58, BX, BY, 4),
    hrule(106, 126, -79.6, BX, BY, 4),
    dlabel("5 mV", 94.8, -77.08, BX, BY),
    dlabel("20 ms", 115.5, -81.1, BX, BY, align="center"),
]

# ======================= PANEL C =======================
layers += [
    label("C", 2, 609, size=27, weight="bold", baseline="top"),
    alt.Chart(c_spk_df).mark_rule(color="#606060", strokeWidth=0.9).encode(
        x=qx("t", CX), y=qy("v", CTY), y2="v2:Q"),
    alt.Chart(c_df).mark_line(color="black", strokeWidth=0.75).encode(
        x=qx("t", CX), y=qy("v", CTY), detail="trace:N"),
    vrule(0, -40, -80, CX, CTY, 1.5, dash=[7, 5]),
    vrule(716, -76.65, -71.65, CX, CTY, 4),
    dlabel("5 mV", 834, -74.2, CX, CTY),
    alt.Chart(c_sc_df).mark_point(shape=ASTER, size=22, color="#9a9a9a", strokeWidth=1,
                                  filled=False, opacity=1).encode(
        x=qx("t", CX, time_axis([-1000, -500, 0, 500, 1000], 500, -105.6, 7, 7,
                                 "Time to silent onset (ms)", 213.5, 51.6, flush=False)),
        y=qy("n", CSY, rate_axis([0, 0.2, 0.4, 0.6, 0.8, 1.0, 1.2], -66, -46.5, 1150, C_Y_EXPR,
                                 size=16.5))),
    vrule(0, 1.4, -0.06, CX, CSY, 1.5, dash=[7, 5]),
    alt.Chart(c_fit_df).mark_line(color="black", strokeWidth=3, interpolate="monotone").encode(
        x=qx("t", CX), y=qy("n", CSY)),
    px_vline(18.3, 1074, 1226),
]

# ======================= PANEL D =======================
layers += [
    label("D", 389, 607, size=27, weight="bold", baseline="top"),
    vrule(0, 1.11, -0.035, DX, DY, 1.5, dash=[14, 6]),
    hrule(-210, 195, 0.657, DX, DY, 1.2),
    alt.Chart(d_sc_df).mark_point(shape=ASTER, size=26, color="#9a9a9a", strokeWidth=1,
                                  filled=False, opacity=1).encode(
        x=qx("t", DX, time_axis(list(range(-200, 201, 20)), 100, -445.4, 8, 7,
                                 "Time to silent state onset (ms)", 573, 52.4)),
        y=qy("n", DY, rate_axis([0, 0.2, 0.4, 0.6, 0.8, 1.0], -468.5, -60.9, 759, Y_EXPR))),
    alt.Chart(d_vm_df).mark_line(color="black", strokeWidth=2, strokeDash=[6, 4]).encode(
        x=qx("t", DX), y=qy("n", DY)),
    alt.Chart(d_fit_df).mark_line(color="black", strokeWidth=3, interpolate="monotone").encode(
        x=qx("t", DX), y=qy("n", DY)),
    vrule(89.5, 0.815, 0.972, DX, DY, 3.5),
    dlabel("5 mV", 104.8, 0.884, DX, DY),
    px_vline(406.5, 680.5, 837.5),
]

# ======================= PANEL E =======================
layers += [
    label("E", 392, 929, size=27, weight="bold", baseline="top"),
    vrule(0, 1.035, 0, EX, EY, 1.2, dash=[7, 5]),
    alt.Chart(e_df).mark_line(color="black", strokeWidth=2.2, interpolate="monotone").encode(
        x=qx("t", EX, time_axis(list(range(-200, 201, 50)), 100, -244, 5, 1,
                                 "Time to silent state onset (ms)", 573, 43)),
        y=qy("n", EY, rate_axis([0, 0.2, 0.4, 0.6, 0.8, 1.0], -468.5, -57.9, 1015, Y_EXPR)),
        detail="c:N"),
    px_vline(409.5, 936.5, 1093.5),
]

# ======================= PANEL F =======================
layers += [
    label("F", 395, 1108, size=27, weight="bold", baseline="top"),
    vrule(0, 1.02, 0, FX, FY, 1.2, dash=[7, 5]),
    alt.Chart(f_df).mark_line(color="black", strokeWidth=2.2, interpolate="monotone").encode(
        x=qx("t", FX, time_axis(list(range(-200, 201, 50)), 100, -44.3, 5, 1,
                                 "Time to silent state onset (ms)", 573, 40)),
        y=qy("n", FY, rate_axis([0, 0.2, 0.4, 0.6, 0.8, 1.0], -468.5, -58.9, 1220, Y_EXPR)),
        detail="c:N"),
    px_vline(408.5, 1141.5, 1298.5),
]

chart = alt.layer(*layers).resolve_scale(x="independent", y="independent").properties(
    width=W, height=H, autosize=alt.AutoSizeParams(type="none"), padding=0,
    background="white",
).configure_view(stroke=None).configure_axis(
    grid=False, domainColor="black", tickColor="black", labelColor="black", titleColor="black",
    labelFont=FONT, titleFont=FONT, labelFontSize=16, titleFontWeight="normal",
    domainWidth=1, tickWidth=1,
)

chart.save("out.html", embed_options={"renderer": "svg", "actions": False})
